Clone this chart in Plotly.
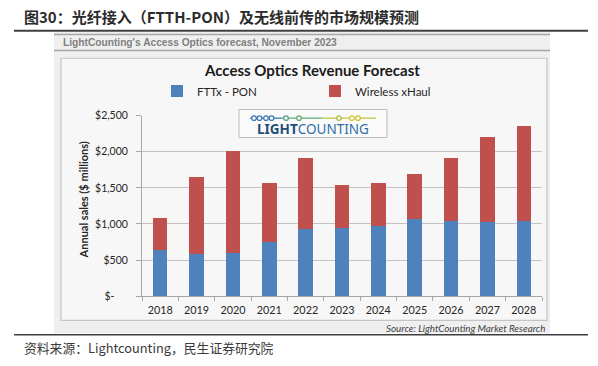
import plotly.graph_objects as go

W, H = 598, 366

years = ["2018", "2019", "2020", "2021", "2022", "2023", "2024", "2025", "2026", "2027", "2028"]
fttx_pon = [640, 580, 600, 745, 930, 940, 965, 1070, 1045, 1030, 1040]
wireless_xhaul = [445, 1070, 1405, 825, 980, 605, 605, 620, 865, 1170, 1315]
ytick_vals = [0, 500, 1000, 1500, 2000, 2500]
ytick_text = ["$-\u00a0\u00a0\u00a0\u00a0\u00a0", "$500", "$1,000", "$1,500", "$2,000", "$2,500"]

BLUE = "#4f81bd"
RED = "#c0504d"
FONT = "Lato"


def px(x):
    return x / W


def py(y):
    return 1 - y / H


fig = go.Figure()
fig.add_trace(go.Bar(x=years, y=fttx_pon, name="FTTx - PON", marker=dict(color=BLUE, line=dict(width=0)), width=0.4))
fig.add_trace(go.Bar(x=years, y=wireless_xhaul, name="Wireless xHaul", marker=dict(color=RED, line=dict(width=0)), width=0.4))

shapes = []
# top dark rule
shapes.append(dict(type="line", xref="paper", yref="paper", x0=px(14), x1=px(588), y0=py(25.5), y1=py(25.5),
                   line=dict(color="#3f3f3f", width=2), layer="below"))
# grey panel
shapes.append(dict(type="rect", xref="paper", yref="paper", x0=px(54), x1=px(550), y0=py(27), y1=py(338.5),
                   fillcolor="#efefef", line=dict(width=0), layer="below"))
# header lines
for yy in (29.5, 46):
    shapes.append(dict(type="line", xref="paper", yref="paper", x0=px(54), x1=px(550), y0=py(yy), y1=py(yy),
                       line=dict(color="#a6a6a6", width=1.5), layer="below"))
# inner chart box
shapes.append(dict(type="rect", xref="paper", yref="paper", x0=px(61), x1=px(547), y0=py(54), y1=py(325),
                   fillcolor="#f7f7f7", line=dict(color="#c4c4c4", width=1.2), layer="below"))
# bottom dark rule
shapes.append(dict(type="line", xref="paper", yref="paper", x0=px(14), x1=px(588), y0=py(340), y1=py(340),
                   line=dict(color="#3f3f3f", width=1.5), layer="below"))

# logo box
shapes.append(dict(type="rect", xref="paper", yref="paper", x0=px(239), x1=px(387), y0=py(107), y1=py(136),
                   fillcolor="#fafafa", line=dict(color="#bdbdbd", width=1), layer="above"))
chain_y = 116
segs = [(250, 281, "#3a78b5"), (281, 322, "#62a87a"), (322, 376, "#c2c23a")]
for a, b, c in segs:
    shapes.append(dict(type="line", xref="paper", yref="paper", x0=px(a), x1=px(b), y0=py(chain_y), y1=py(chain_y),
                       line=dict(color=c, width=1.3), layer="above"))
circles = [(254, "#3a78b5"), (259.5, "#3a78b5"), (266, "#3a78b5"), (271.5, "#3a78b5"), (286, "#4f9e86"),
           (299, "#6aa86a"), (339, "#b0ba3c"), (352, "#d2c42c"), (358, "#d2c42c")]
r = 2.3
for cx, c in circles:
    shapes.append(dict(type="circle", xref="paper", yref="paper", x0=px(cx - r), x1=px(cx + r),
                       y0=py(chain_y + r), y1=py(chain_y - r), fillcolor="#fafafa",
                       line=dict(color=c, width=1.2), layer="above"))


def ann(text, x, y, xanchor, size, family=FONT, color="#262626", angle=0):
    return dict(text=text, x=px(x), y=py(y), xref="paper", yref="paper", xanchor=xanchor, yanchor="middle",
                showarrow=False, textangle=angle, font=dict(family=family, size=size, color=color))


annotations = [
    ann("<b>图30：光纤接入（FTTH-PON）及无线前传的市场规模预测</b>", 22, 11, "left", 15, "Noto Sans CJK SC", "#2b2b2b"),
    ann("<b>LightCounting's Access Optics forecast, November 2023</b>", 61, 38, "left", 10.2, "Liberation Sans", "#7f7f7f"),
    ann("<b>Access Optics Revenue Forecast</b>", 312, 66, "center", 15, FONT, "#1a1a1a"),
    ann("<b>Annual sales ($ millions)</b>", 83, 201, "center", 11, FONT, "#262626", -90),
    ann("<i>Source: LightCounting Market Research</i>", 547, 333, "right", 9.8, FONT, "#404040"),
    ann("资料来源：Lightcounting，民生证券研究院", 22, 353, "left", 12.8, "Noto Sans CJK SC", "#3a3a3a"),
    ann("<b>LIGHT</b><span style='color:#2f6fa6'>COUNTING</span>", 313, 127, "center", 13.5, "Noto Sans", "#1f4e79"),
]

fig.update_layout(
    width=W, height=H,
    margin=dict(l=0, r=0, t=0, b=0),
    paper_bgcolor="white",
    plot_bgcolor="rgba(0,0,0,0)",
    barmode="stack",
    font=dict(family=FONT, size=11, color="#262626"),
    shapes=shapes,
    annotations=annotations,
    legend=dict(orientation="h", x=px(157), xanchor="left", y=py(88), yanchor="middle",
                entrywidth=113, bgcolor="rgba(0,0,0,0)", font=dict(family=FONT, size=11.5, color="#262626"),
                traceorder="normal"),
    xaxis=dict(domain=[px(142), px(542)], type="category", showgrid=False, showline=True, linecolor="#a6a6a6",
               linewidth=1, ticks="outside", tickson="boundaries", ticklen=4, tickcolor="#a6a6a6",
               tickangle=0, tickfont=dict(family=FONT, size=10.8, color="#262626"), ticklabelstandoff=4),
    yaxis=dict(domain=[py(300), py(113.3)], range=[0, 2500], tickvals=ytick_vals, ticktext=ytick_text,
               showgrid=True, gridcolor="#c3c3c3", gridwidth=1, showline=True, linecolor="#a6a6a6",
               ticks="outside", ticklen=5, tickcolor="#a6a6a6", zeroline=False,
               tickfont=dict(family=FONT, size=10.5, color="#262626"), ticklabelstandoff=6),
)

fig.write_html("out.html", config={"displayModeBar": False},
               post_script="document.body.style.margin='0px';")
